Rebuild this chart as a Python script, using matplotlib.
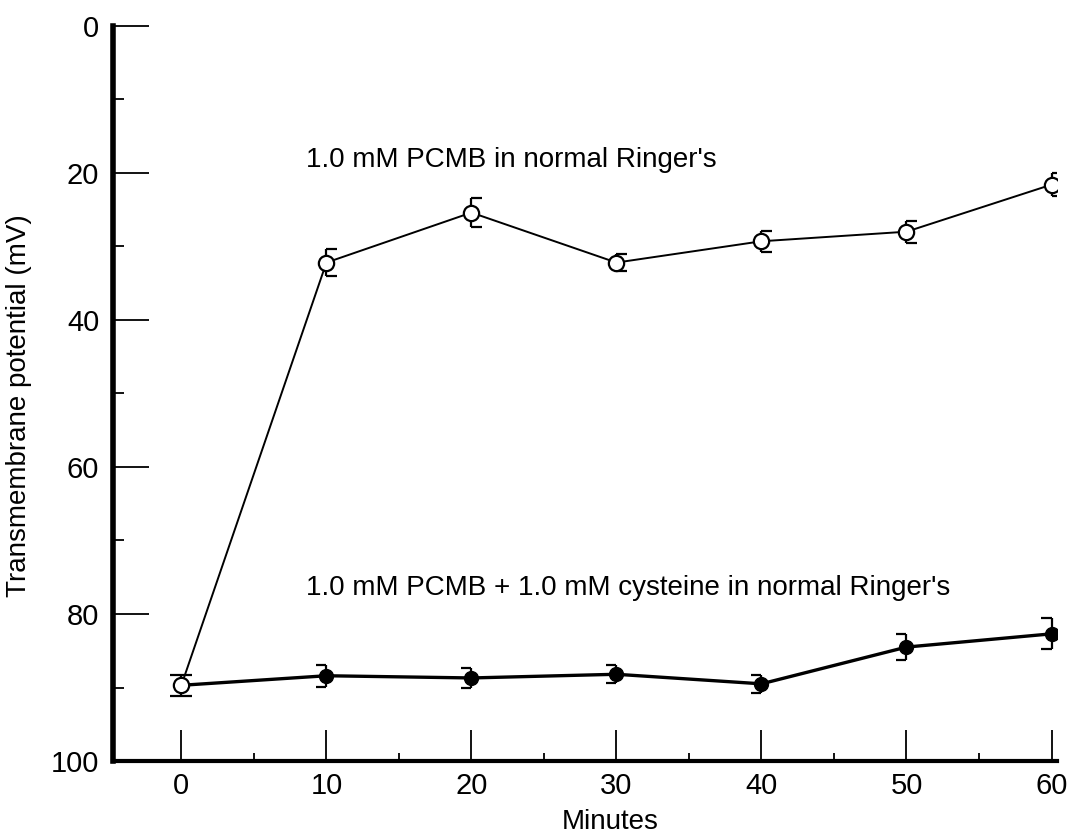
import numpy as np
import matplotlib
matplotlib.use("Agg")
from matplotlib import pyplot as plt
from matplotlib.ticker import MultipleLocator

plt.rcParams['font.family'] = ['Liberation Sans', 'DejaVu Sans']

# data (potential in mV, plotted downward)
minutes = [0, 10, 20, 30, 40, 50, 60]
pcmb = [89.7, 32.2, 25.4, 32.2, 29.3, 28.0, 21.6]
pcmb_err = [1.4, 1.8, 2.0, 1.2, 1.4, 1.5, 1.6]
cyst = [89.7, 88.4, 88.7, 88.2, 89.5, 84.5, 82.7]
cyst_err = [1.4, 1.5, 1.3, 1.2, 1.2, 1.8, 2.1]

label_pcmb = "1.0 mM PCMB in normal Ringer's"
label_cyst = "1.0 mM PCMB + 1.0 mM cysteine in normal Ringer's"

fig = plt.figure(figsize=(10.68, 8.34), dpi=100)
ax = fig.add_axes([0.106, 0.0875, 0.884, 0.8815])

cap = 0.75


def brackets(x, y, e, sides, lw):
    x = np.asarray(x)
    lo = np.asarray(y) - np.asarray(e)
    hi = np.asarray(y) + np.asarray(e)
    ax.vlines(x, lo, hi, color='black', lw=lw, zorder=2)
    for s in sides:
        ax.hlines(lo, x, x + s * cap, color='black', lw=lw, zorder=2)
        ax.hlines(hi, x, x + s * cap, color='black', lw=lw, zorder=2)


# closed series: caps to the left
brackets(minutes[1:], cyst[1:], cyst_err[1:], [-1], 1.6)
ax.plot(minutes, cyst, color='black', lw=2.4, marker='o', ms=10,
        mfc='black', mec='black', zorder=3)

# open series: caps to the right (both sides at t=0)
brackets(minutes[1:], pcmb[1:], pcmb_err[1:], [1], 1.6)
brackets(minutes[:1], pcmb[:1], pcmb_err[:1], [-1, 1], 1.6)
ax.plot(minutes, pcmb, color='black', lw=1.4, marker='o', ms=11,
        mfc='white', mec='black', mew=1.6, zorder=4)

ax.set_xlim(-4.7, 60.4)
ax.set_ylim(100, 0)

for s in ['top', 'right']:
    ax.spines[s].set_visible(False)
ax.spines['left'].set_linewidth(4)
ax.spines['bottom'].set_linewidth(3)

ax.xaxis.set_major_locator(MultipleLocator(10))
ax.xaxis.set_minor_locator(MultipleLocator(5))
ax.yaxis.set_major_locator(MultipleLocator(20))
ax.yaxis.set_minor_locator(MultipleLocator(10))

ax.tick_params(axis='y', which='major', direction='in', length=26, width=1.3,
               labelsize=21, pad=10)
ax.tick_params(axis='y', which='minor', direction='in', length=8, width=1.3)
ax.tick_params(axis='x', which='major', direction='in', length=22, width=1.3,
               labelsize=21, pad=8)
ax.tick_params(axis='x', which='minor', direction='in', length=6, width=1.3)

ax.set_xlabel("Minutes", fontsize=20)
ax.xaxis.set_label_coords(0.526, -0.065)
ax.set_ylabel("Transmembrane potential (mV)", fontsize=20)
ax.yaxis.set_label_coords(-0.086, 0.484)

ax.text(8.6, 18.2, label_pcmb, fontsize=20, va='center', ha='left')
ax.text(8.6, 76.5, label_cyst, fontsize=20, va='center', ha='left')

fig.savefig("out.png", dpi=100)
